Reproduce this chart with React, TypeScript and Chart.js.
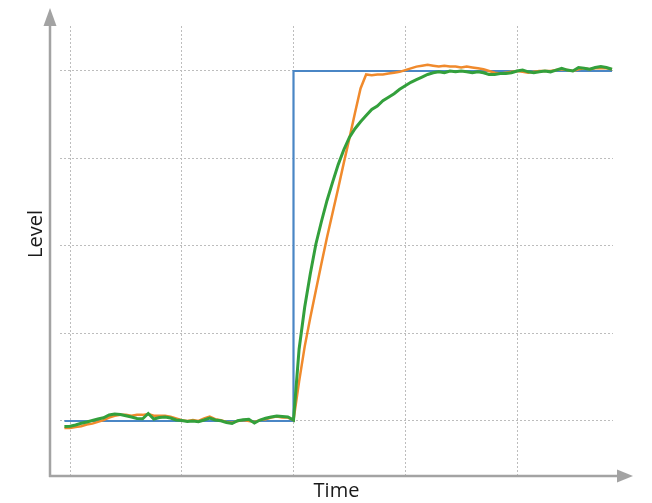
import React, { useEffect, useRef } from "react";
import { Chart, registerables } from "chart.js";

Chart.register(...registerables);

// Sample grid for the two measured responses
const SAMPLE_START = -0.05;
const SAMPLE_STEP = 0.05;

// Commanded setpoint (step at t = 2)
const SETPOINT_TIME = [-0.05, 2, 2, 4.85];
const SETPOINT_LEVEL = [0, 0, 4, 4];

// Rate-limited response
const RAMP_LEVEL = [
  -0.08, -0.08, -0.07, -0.06, -0.04, -0.03, -0.01, 0.01, 0.04, 0.06,
  0.07, 0.07, 0.06, 0.07, 0.07, 0.08, 0.06, 0.06, 0.06, 0.05,
  0.03, 0.01, 0.0, 0.01, 0.0, 0.03, 0.05, 0.02, 0.01, -0.01,
  -0.02, 0.0, 0.01, 0.0, -0.01, 0.01, 0.02, 0.04, 0.05, 0.04,
  0.04, 0.01,
  0.45, 0.85, 1.18, 1.49, 1.8, 2.1, 2.38, 2.66, 2.95, 3.23,
  3.52, 3.8, 3.96, 3.95, 3.96, 3.96, 3.97, 3.98, 3.99, 4.01,
  4.03, 4.05, 4.06, 4.07, 4.06, 4.05, 4.06, 4.05, 4.05, 4.04,
  4.05, 4.04, 4.03, 4.02, 4.0, 3.98, 3.97, 3.98, 3.99, 4.0,
  3.99, 3.98, 3.99, 4.0, 4.0, 4.0, 4.01, 4.02, 4.01, 4.0,
  4.02, 4.03, 4.02, 4.03, 4.03, 4.03, 4.02,
];

// First-order lag response
const LAG_LEVEL = [
  -0.063, -0.06, -0.046, -0.026, -0.011, 0.006, 0.023, 0.037, 0.069, 0.08,
  0.074, 0.06, 0.046, 0.029, 0.025, 0.086, 0.023, 0.04, 0.046, 0.034,
  0.011, 0.006, -0.006, 0.0, -0.008, 0.011, 0.034, 0.011, 0.003, -0.017,
  -0.029, 0.003, 0.014, 0.019, -0.023, 0.011, 0.031, 0.046, 0.057, 0.051,
  0.046, 0.011,
  0.82, 1.3, 1.68, 2.02, 2.28, 2.52, 2.73, 2.93, 3.1, 3.24,
  3.34, 3.42, 3.49, 3.56, 3.6, 3.66, 3.7, 3.74, 3.79, 3.83,
  3.87, 3.9, 3.93, 3.96, 3.98, 3.99, 3.98, 4.0, 3.99, 4.0,
  3.99, 3.98, 3.99, 3.98, 3.96, 3.96, 3.97, 3.97, 3.98, 4.0,
  4.01, 3.99, 3.98, 3.99, 4.0, 3.99, 4.01, 4.03, 4.01, 4.0,
  4.04, 4.03, 4.02, 4.04, 4.05, 4.04, 4.02,
];

const X_TITLE = "Time";
const Y_TITLE = "Level";

const AXIS_COLOR = "#a3a3a3";

const toPoints = (levels: number[]) =>
  levels.map((y, i) => ({ x: SAMPLE_START + i * SAMPLE_STEP, y }));

// Arrowed axes and axis titles
const arrowAxes = {
  id: "arrowAxes",
  afterDraw(chart: Chart) {
    const { ctx, chartArea } = chart;
    const ox = chartArea.left - 10;
    const oy = chartArea.bottom;
    const yTip = chartArea.top - 18;
    const xTip = chartArea.right + 20;
    ctx.save();
    ctx.strokeStyle = AXIS_COLOR;
    ctx.fillStyle = AXIS_COLOR;
    ctx.lineWidth = 2.5;
    ctx.beginPath();
    ctx.moveTo(ox, oy + 1);
    ctx.lineTo(ox, yTip + 12);
    ctx.moveTo(ox - 1, oy);
    ctx.lineTo(xTip - 12, oy);
    ctx.stroke();
    // y arrowhead
    ctx.beginPath();
    ctx.moveTo(ox, yTip);
    ctx.lineTo(ox - 6.5, yTip + 18);
    ctx.lineTo(ox + 6.5, yTip + 18);
    ctx.closePath();
    ctx.fill();
    // x arrowhead
    ctx.beginPath();
    ctx.moveTo(xTip, oy);
    ctx.lineTo(xTip - 16, oy - 6.5);
    ctx.lineTo(xTip - 16, oy + 6.5);
    ctx.closePath();
    ctx.fill();

    ctx.fillStyle = "#1a1a1a";
    ctx.font = "20px 'Open Sans', sans-serif";
    ctx.textAlign = "center";
    ctx.textBaseline = "alphabetic";
    ctx.fillText(X_TITLE, (chartArea.left + chartArea.right) / 2, oy + 21);
    ctx.translate(ox - 8, (chartArea.top + chartArea.bottom) / 2 - 17);
    ctx.rotate(-Math.PI / 2);
    ctx.fillText(Y_TITLE, 0, 0);
    ctx.restore();
  },
};

export default function App() {
  const canvasRef = useRef<HTMLCanvasElement | null>(null);

  useEffect(() => {
    if (!canvasRef.current) return;
    const chart = new Chart(canvasRef.current, {
      type: "line",
      data: {
        datasets: [
          {
            label: "Lag",
            data: toPoints(LAG_LEVEL),
            borderColor: "#33a03c",
            borderWidth: 3,
            pointRadius: 0,
            tension: 0,
            order: 0,
          },
          {
            label: "Ramp",
            data: toPoints(RAMP_LEVEL),
            borderColor: "#f08a2c",
            borderWidth: 2.5,
            pointRadius: 0,
            tension: 0,
            order: 1,
          },
          {
            label: "Setpoint",
            data: SETPOINT_TIME.map((x, i) => ({ x, y: SETPOINT_LEVEL[i] })),
            borderColor: "#4a86c5",
            borderWidth: 2.2,
            pointRadius: 0,
            tension: 0,
            order: 2,
          },
        ],
      },
      options: {
        animation: false,
        responsive: true,
        maintainAspectRatio: false,
        layout: { padding: { left: 60, top: 26, right: 39, bottom: 27 } },
        plugins: { legend: { display: false }, tooltip: { enabled: false } },
        scales: {
          x: {
            type: "linear",
            min: -0.0895,
            max: 4.859,
            ticks: { display: false, stepSize: 1, includeBounds: false },
            grid: { color: "#bdbdbd", lineWidth: 1, drawTicks: false },
            border: { display: false, dash: [2, 2] },
          },
          y: {
            type: "linear",
            min: -0.6286,
            max: 4.514,
            ticks: { display: false, stepSize: 1, includeBounds: false },
            grid: { color: "#bdbdbd", lineWidth: 1, drawTicks: false },
            border: { display: false, dash: [2, 2] },
          },
        },
      },
      plugins: [arrowAxes],
    });
    return () => chart.destroy();
  }, []);

  return (
    <div style={{ position: "absolute", left: 0, top: 0, width: 652, height: 503, background: "#fff" }}>
      <canvas ref={canvasRef} />
    </div>
  );
}
